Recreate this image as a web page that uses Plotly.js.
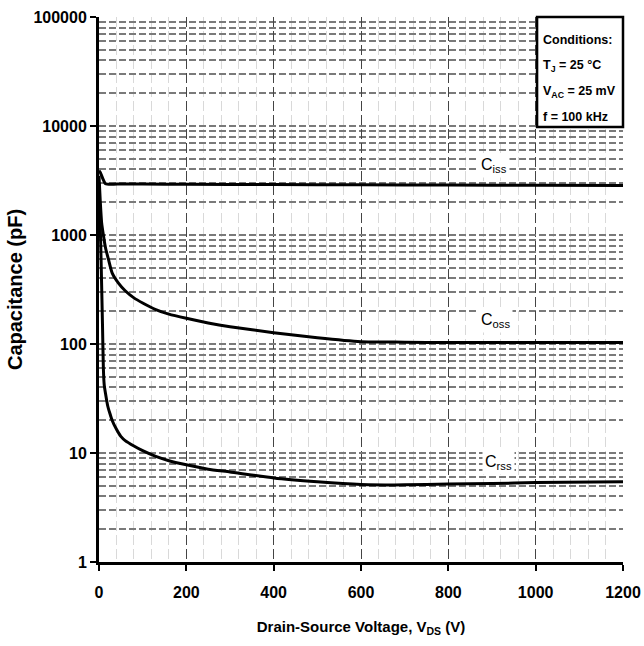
<!DOCTYPE html>
<html>
<head>
<meta charset="utf-8">
<script src="https://cdn.plot.ly/plotly-3.0.1.min.js"></script>
<style>html,body{margin:0;padding:0;background:#fff;}#chart{width:644px;height:646px;}</style>
</head>
<body>
<div id="chart"></div>
<script>
// Drain-source voltage (V) and capacitances (pF)
const vCiss = [0, 3, 15, 50, 100, 200, 400, 600, 800, 1000, 1200];
const ciss  = [3900, 3750, 2950, 2940, 2930, 2920, 2900, 2890, 2870, 2860, 2850];

const vCoss = [0, 3, 6, 10, 15, 22, 30, 45, 60, 80, 100, 130, 160, 200, 250, 300, 400, 500, 600, 700, 800, 1000, 1200];
const coss  = [3500, 2000, 1300, 1000, 760, 590, 450, 360, 308, 265, 238, 207, 188, 172, 156, 144, 127, 114, 105, 104, 103, 103, 103];

const vCrss = [0, 4, 8, 10, 12, 15, 20, 25, 30, 40, 50, 60, 80, 100, 130, 160, 200, 250, 300, 400, 500, 600, 700, 800, 900, 1000, 1200];
const crss  = [3000, 800, 150, 60, 42, 35, 27, 23, 20, 16.5, 14.2, 13, 11.6, 10.5, 9.3, 8.5, 7.8, 7.1, 6.7, 5.9, 5.45, 5.15, 5.1, 5.2, 5.25, 5.35, 5.45];

const yTickVals = [1, 10, 100, 1000, 10000, 100000];
const yTickText = ['1', '10', '100', '1000', '10000', '100000'];
const xTickVals = [0, 200, 400, 600, 800, 1000, 1200];
const xTickText = ['0', '200', '400', '600', '800', '1000', '1200'];

const seriesLabels = ['C<sub>iss</sub>', 'C<sub>oss</sub>', 'C<sub>rss</sub>'];
const labelV = [905, 907, 916];
const labelC = [4300, 164, 8.2];

const conditionLines = ['Conditions:', 'T<sub>J</sub> = 25 °C', 'V<sub>AC</sub> = 25 mV', 'f = 100 kHz'];

const FONT = 'Liberation Sans, Arial, sans-serif';
const lineStyle = {color: '#000', width: 3, shape: 'spline', smoothing: 0.5};

const traces = [
  {x: vCiss, y: ciss, mode: 'lines', line: lineStyle, hoverinfo: 'skip'},
  {x: vCoss, y: coss, mode: 'lines', line: lineStyle, hoverinfo: 'skip'},
  {x: vCrss, y: crss, mode: 'lines', line: lineStyle, hoverinfo: 'skip'}
];

const annotations = seriesLabels.map((t, i) => ({
  x: labelV[i], y: Math.log10(labelC[i]), xref: 'x', yref: 'y',
  text: t, showarrow: false, bgcolor: '#fff', borderpad: 2,
  font: {family: FONT, size: 16, color: '#000'}
}));

// Conditions box (paper coordinates)
const boxX0 = 0.836, boxY0 = 0.798;
const condY = [0.958, 0.910, 0.862, 0.816];
conditionLines.forEach((t, i) => {
  annotations.push({
    xref: 'paper', yref: 'paper', x: boxX0 + 0.008, y: condY[i], xanchor: 'left', yanchor: 'middle',
    align: 'left', showarrow: false, text: '<b>' + t + '</b>',
    font: {family: FONT, size: 12.5, color: '#000'}
  });
});

const shapes = [{
  type: 'rect', xref: 'paper', yref: 'paper', x0: boxX0, x1: 1.0, y0: boxY0, y1: 1.0,
  fillcolor: '#fff', line: {color: '#000', width: 2.5}, layer: 'above'
}];

const layout = {
  width: 644, height: 646,
  margin: {l: 99, r: 21, t: 17, b: 84},
  paper_bgcolor: '#fff', plot_bgcolor: '#fff',
  showlegend: false,
  font: {family: FONT, color: '#000'},
  xaxis: {
    range: [0, 1200], tickmode: 'array', tickvals: xTickVals, ticktext: xTickText,
    showgrid: true, gridcolor: '#444', gridwidth: 1, griddash: '10px,4px',
    minor: {dtick: 40, tick0: 0, showgrid: true, gridcolor: '#d9d9d9', gridwidth: 1, ticks: ''},
    ticks: 'outside', ticklen: 6, tickwidth: 2, tickcolor: '#000', ticklabelstandoff: 8,
    showline: true, linecolor: '#000', linewidth: 3, zeroline: false,
    tickfont: {family: FONT, size: 16, color: '#000', weight: 'bold'},
    title: {text: '<b>Drain-Source Voltage, V<sub>DS</sub> (V)</b>', font: {family: FONT, size: 15, color: '#000'}, standoff: 22}
  },
  yaxis: {
    type: 'log', range: [0, 5], tickmode: 'array', tickvals: yTickVals, ticktext: yTickText,
    showgrid: true, gridcolor: '#7a7a7a', gridwidth: 2, griddash: '7px,3px',
    minor: {dtick: 'D1', showgrid: true, gridcolor: '#7a7a7a', gridwidth: 2, griddash: '7px,3px', ticks: ''},
    ticks: 'outside', ticklen: 6, tickwidth: 2, tickcolor: '#000',
    showline: true, linecolor: '#000', linewidth: 3, zeroline: false,
    tickfont: {family: FONT, size: 16, color: '#000', weight: 'bold'},
    title: {text: '<b>Capacitance (pF)</b>', font: {family: FONT, size: 20, color: '#000'}, standoff: 6}
  },
  shapes: shapes,
  annotations: annotations
};

Plotly.newPlot('chart', traces, layout, {displayModeBar: false, staticPlot: true});
</script>
</body>
</html>
